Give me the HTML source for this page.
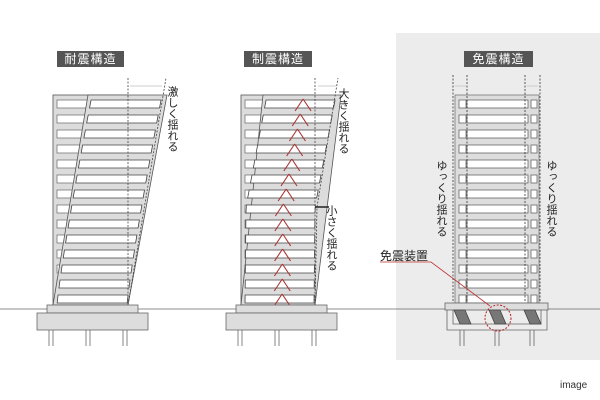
<!DOCTYPE html>
<html><head><meta charset="utf-8"><style>
body{margin:0;width:600px;height:400px;background:#fff;position:relative;overflow:hidden;font-family:"Liberation Sans","Noto Sans CJK JP",sans-serif}
.tag{position:absolute;background:#555;color:#fff;font-size:12px;line-height:16px;height:16px;text-align:center;letter-spacing:1px}
.v{position:absolute;writing-mode:vertical-rl;font-size:11px;color:#222;line-height:12px;letter-spacing:0px}
svg{position:absolute;left:0;top:0}
</style></head><body>
<svg id="s" width="600" height="400" xmlns="http://www.w3.org/2000/svg">
<rect x="396" y="33" width="204" height="327" fill="#ececec"/>
<line x1="0" y1="309" x2="600" y2="309" stroke="#666" stroke-width="0.8"/>
</svg>
<div class="tag" style="left:57px;top:51px;width:67px">耐震構造</div>
<div class="tag" style="left:244px;top:51px;width:68px">制震構造</div>
<div class="tag" style="left:464px;top:51px;width:69px">免震構造</div>
<div class="v" style="left:166px;top:86px">激しく揺れる</div>
<div class="v" style="left:337px;top:88px">大きく揺れる</div>
<div class="v" style="left:325px;top:205px">小さく揺れる</div>
<div class="v" style="left:435px;top:160px">ゆっくり揺れる</div>
<div class="v" style="left:545px;top:160px">ゆっくり揺れる</div>
<div style="position:absolute;left:380px;top:247px;font-size:12px;color:#222">免震装置</div>
<div style="position:absolute;left:560px;top:380px;font-size:10px;color:#333">image</div>
<script>
var s=document.getElementById('s'),h='';
function P(pts,f,st,w){return '<polygon points="'+pts.map(p=>p.join(',')).join(' ')+'" fill="'+f+'" stroke="'+st+'" stroke-width="'+(w||0.8)+'"/>';}
function R(x,y,w,hh,f,st,sw){return '<rect x="'+x+'" y="'+y+'" width="'+w+'" height="'+hh+'" fill="'+f+'" stroke="'+st+'" stroke-width="'+(sw||0.8)+'"/>';}
function L(a,b,c,d,st,w,da){return '<line x1="'+a+'" y1="'+b+'" x2="'+c+'" y2="'+d+'" stroke="'+st+'" stroke-width="'+(w||0.8)+'"'+(da?' stroke-dasharray="'+da+'"':'')+'/>';}
function base(cx){var x=cx;h+=R(x-41,305,91,8,'#ddd','#666')+R(x-51,313,111,17,'#ddd','#666');
 [x-37,x,x+37].forEach(p=>{h+=L(p-2,330,p-2,346,'#666',0.8)+L(p+2,330,p+2,346,'#666',0.8);});}
function bld(L0,R0,sh,chev){
 h+=R(L0,95,R0-L0,210,'#dcdcdc','#555');
 for(var i=0;i<14;i++){var y=100+i*15;h+=R(L0+4,y,R0-L0-8,8,'#fff','#777');}
 var t=95,b=305;
 h+=P([[L0+sh(t),t],[R0+sh(t)+4,t],[R0+sh(b),b],[L0+sh(b),b]],'#dcdcdc','#555');
 for(var i=0;i<14;i++){var y=100+i*15,y2=y+8;
  h+=P([[L0+4+sh(y),y],[R0-4+sh(y)+3,y],[R0-4+sh(y2)+3,y2],[L0+4+sh(y2),y2]],'#fff','#444');
  if(chev){var cx=(L0+R0)/2+4+sh(y);h+=L(cx-8,y2+3,cx,y-1,'#a33',1.1)+L(cx,y-1,cx+8,y2+3,'#a33',1.1);}
 }
}
bld(53,128,y=>35*Math.pow((305-y)/210,1.15),false);
h+=L(128,78,128,305,'#444',0.8,'2,1.5')+L(128,305,166,78,'#444',0.8,'2,1.5')+L(130,86,162,86,'#ccc',1);
base(88);
bld(241,315,y=>y>207?(305-y)/98:1+21*(207-y)/112,true);
h+=L(315,78,315,305,'#444',0.8,'2,1.5')+L(315,305,317,207,'#444',0.8,'2,1.5')+L(317,207,338,78,'#444',0.8,'2,1.5')+L(318,86,336,86,'#ccc',1);
h+=L(315,207,329,207,'#222',1.5);
base(277);
h+=R(455,95,84,208,'#ddd','#777');
for(var i=0;i<14;i++){var y=100+i*15;h+=R(459,y,7,8,'#fff','#666')+R(467,y,61,8,'#fff','#666')+R(531,y,6,8,'#fff','#666');}
[453,467,525,540].forEach(x=>{h+=L(x,75,x,305,'#333',0.8,'2,1.5');});
h+=L(455,86,466,86,'#ccc',1)+L(527,86,538,86,'#ccc',1);
h+=R(445,303,103,7,'#ddd','#666');
h+='<path d="M447 310 V330 H547 V310 M453 310 V324 H541 V310" fill="none" stroke="#666" stroke-width="0.8"/>';
[462,497,532].forEach(x=>{h+=P([[x-8,310],[x+3,310],[x+9,324],[x-2,324]],'#777','#444');});
[462,497,532].forEach(p=>{h+=L(p-2,330,p-2,346,'#666')+L(p+2,330,p+2,346,'#666');});
h+='<circle cx="498" cy="318" r="13" fill="none" stroke="#b22" stroke-width="1" stroke-dasharray="2,1.5"/>';
h+='<polyline points="380,262 431,262 490,306" fill="none" stroke="#b33" stroke-width="0.8"/>';
s.innerHTML+=h;
</script>
</body></html>
